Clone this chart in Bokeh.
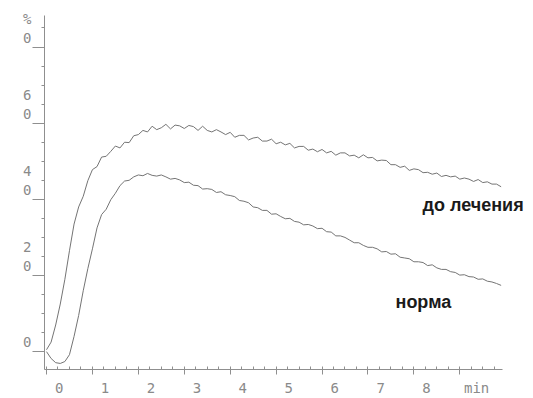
from bokeh.plotting import figure
from bokeh.models import Label, FixedTicker, Range1d
from bokeh.embed import file_html
from bokeh.resources import INLINE

# ---- data (time in minutes, response in %) ----
time_min = [round(i * 0.1, 1) for i in range(100)]

before_treatment = [
    0.5, 2.5, 7.0, 12.5, 19.0, 26.5, 33.5, 38.0, 40.8, 44.9,
    47.8, 48.6, 51.1, 51.3, 52.6, 54.0, 53.5, 55.0, 54.9, 56.7,
    57.0, 58.1, 57.7, 59.2, 58.3, 58.8, 59.7, 58.5, 59.5, 59.3,
    58.6, 59.4, 59.1, 58.1, 59.2, 58.1, 57.7, 58.3, 57.7, 57.0,
    57.6, 56.3, 56.8, 56.8, 55.6, 56.1, 56.3, 55.3, 55.3, 55.8,
    54.6, 55.0, 54.3, 54.7, 53.5, 53.9, 53.9, 52.9, 53.2, 52.5,
    53.1, 52.2, 52.6, 51.6, 52.2, 52.2, 51.4, 51.6, 50.9, 51.7,
    50.9, 51.0, 50.1, 50.3, 50.2, 49.1, 49.1, 48.4, 48.7, 47.6,
    48.0, 47.8, 47.0, 47.1, 46.6, 46.9, 46.0, 46.3, 45.9, 46.1,
    45.3, 45.6, 45.3, 44.7, 45.2, 44.4, 44.6, 44.0, 44.0, 43.3,
]

norm = [
    0.0, -1.8, -2.9, -3.1, -2.6, -0.8, 4.0, 9.5, 16.0, 21.8,
    27.0, 32.5, 36.0, 37.4, 39.9, 41.6, 43.6, 44.8, 45.0, 45.9,
    46.4, 46.2, 46.8, 46.3, 46.1, 46.4, 45.9, 45.3, 45.5, 45.1,
    44.4, 44.5, 43.7, 43.6, 42.7, 42.8, 42.6, 41.8, 42.0, 41.2,
    41.0, 40.7, 39.7, 39.5, 39.1, 38.0, 37.8, 37.1, 37.1, 36.1,
    36.2, 35.5, 34.9, 35.0, 34.2, 34.0, 33.3, 33.4, 33.0, 32.3,
    32.4, 31.5, 31.4, 30.4, 30.4, 30.0, 29.3, 28.6, 28.6, 27.9,
    27.4, 27.4, 27.0, 26.2, 26.3, 25.6, 25.7, 24.8, 24.6, 24.4,
    23.6, 23.6, 23.4, 22.6, 22.8, 22.0, 21.6, 21.6, 21.0, 20.8,
    20.1, 20.2, 19.7, 19.6, 19.0, 19.1, 18.5, 18.3, 17.9, 17.4,
]

x_ticks = [0, 1, 2, 3, 4, 5, 6, 7, 8, 9]
x_tick_labels = ["0", "1", "2", "3", "4", "5", "6", "7", "8", "min"]
y_ticks = [0, 20, 40, 60, 80]
y_tick_labels = ["0", "2\n0", "4\n0", "6\n0", "%\n0"]

series_labels = ["до лечения", "норма"]

# ---- style ----
AXIS_COLOR = "#8f8f8f"
TEXT_COLOR = "#8a8a8a"
CURVE_COLOR = "#747474"
NB = "\u00a0"

X_START, X_AXIS_END, X_END = -0.0436, 9.93, 10.605
Y_START, Y_END = -4.69, 88.28

p = figure(
    width=533, height=398,
    x_range=Range1d(X_START, X_END), y_range=Range1d(Y_START, Y_END),
    output_backend="svg", toolbar_location=None,
    min_border_left=44, min_border_right=0, min_border_top=15, min_border_bottom=26,
)
p.outline_line_color = None
p.grid.visible = False
p.background_fill_color = "white"
p.border_fill_color = "white"

for ax in (p.xaxis[0], p.yaxis[0]):
    ax.axis_line_color = AXIS_COLOR
    ax.major_tick_line_color = AXIS_COLOR
    ax.minor_tick_line_color = AXIS_COLOR
    ax.major_label_text_color = TEXT_COLOR
    ax.major_label_text_font = "DejaVu Sans Mono"

# x axis: ticks down at whole minutes, small ticks up at quarter minutes,
# labels sit just right of each tick
xa = p.xaxis[0]
xa.bounds = (X_START, X_AXIS_END)
xa.ticker = FixedTicker(ticks=x_ticks, minor_ticks=[q / 4 for q in range(0, 40)])
xa.major_tick_out = 5
xa.major_tick_in = 0
xa.minor_tick_out = 0
xa.minor_tick_in = 3
xa.major_label_text_font_size = "14px"
xa.major_label_standoff = 5
xa.major_label_overrides = {
    t: (NB * 4 if lab == "min" else NB * 3) + lab
    for t, lab in zip(x_ticks, x_tick_labels)
}

# y axis: long ticks out, short minor ticks, stacked digits above each tick
ya = p.yaxis[0]
ya.ticker = FixedTicker(ticks=y_ticks, minor_ticks=[v * 5 for v in range(-1, 18)])
ya.major_tick_out = 12
ya.major_tick_in = 0
ya.minor_tick_out = 3
ya.minor_tick_in = 0
ya.major_label_text_font_size = "14px"
ya.major_label_text_line_height = 1.17
ya.major_label_standoff = 1
ya.major_label_overrides = {
    v: lab + ("\n" + NB) * (lab.count("\n") + 1)
    for v, lab in zip(y_ticks, y_tick_labels)
}

# curves
p.line(time_min, before_treatment, line_color=CURVE_COLOR, line_width=1)
p.line(time_min, norm, line_color=CURVE_COLOR, line_width=1)

# series annotations
for (x, y), text in zip([(8.19, 38.5), (7.60, 13.0)], series_labels):
    p.add_layout(Label(x=x, y=y, text=text,
                       text_font="Liberation Sans", text_font_style="bold",
                       text_font_size="18px", text_color="#1a1a1a",
                       text_baseline="alphabetic"))

open("out.html", "w").write(file_html(p, INLINE))
